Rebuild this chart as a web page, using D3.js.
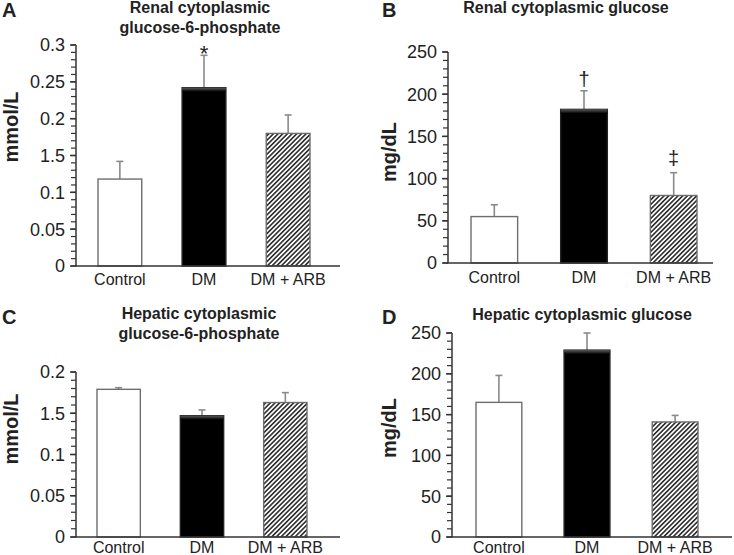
<!DOCTYPE html>
<html>
<head>
<meta charset="utf-8">
<script src="https://d3js.org/d3.v7.min.js"></script>
<style>
	body { margin: 0; background: #fff; }
	svg text { font-family: "Liberation Sans", Arial, sans-serif; fill: #222; }
	.tick_label { font-size: 18px; }
	.x_label { font-size: 16px; }
	.panel_title { font-size: 16px; font-weight: bold; }
	.panel_letter { font-size: 20px; font-weight: bold; }
	.y_title { font-size: 20px; font-weight: bold; }
</style>
</head>
<body>
<svg id="fig" width="734" height="555"></svg>
<script>
const groups = ["Control", "DM", "DM + ARB"];

// A: renal cytoplasmic glucose-6-phosphate (mmol/L)
const renalG6P = [0.118, 0.242, 0.180];
const renalG6PErr = [0.024, 0.044, 0.025];
const ticksA = [0, 0.05, 0.1, 0.15, 0.2, 0.25, 0.3];
const tickLabelsA = ["0", "0.05", "0.1", "1.5", "0.2", "0.25", "0.3"];

// B: renal cytoplasmic glucose (mg/dL)
const renalGlu = [55, 182, 80];
const renalGluErr = [14, 22, 27];
const ticksB = [0, 50, 100, 150, 200, 250];
const tickLabelsB = ["0", "50", "100", "150", "200", "250"];

// C: hepatic cytoplasmic glucose-6-phosphate (mmol/L)
const hepG6P = [0.179, 0.147, 0.163];
const hepG6PErr = [0.002, 0.007, 0.012];
const ticksC = [0, 0.05, 0.1, 0.15, 0.2];
const tickLabelsC = ["0", "0.05", "0.1", "1.5", "0.2"];

// D: hepatic cytoplasmic glucose (mg/dL)
const hepGlu = [165, 229, 141];
const hepGluErr = [33, 21, 8];
const ticksD = [0, 50, 100, 150, 200, 250];
const tickLabelsD = ["0", "50", "100", "150", "200", "250"];

const svg = d3.select("#fig");
const axisColor = "#333";
const barStroke = "#6e6e6e";
const errColor = "#8a8a8a";

// hatch pattern and the dark bar gradient
const defs = svg.append("defs");
const hatch = defs.append("pattern")
	.attr("id", "hatch")
	.attr("patternUnits", "userSpaceOnUse")
	.attr("width", 3.3)
	.attr("height", 3.3)
	.attr("patternTransform", "rotate(45)");
hatch.append("rect")
	.attr("width", 3.3)
	.attr("height", 3.3)
	.attr("fill", "#fff");
hatch.append("line")
	.attr("x1", 0.8).attr("y1", 0)
	.attr("x2", 0.8).attr("y2", 3.3)
	.attr("stroke", "#333")
	.attr("stroke-width", 1.7);

const topGrad = defs.append("linearGradient")
	.attr("id", "topgrad")
	.attr("x1", 0).attr("y1", 0).attr("x2", 0).attr("y2", 1);
topGrad.append("stop").attr("offset", "0%").attr("stop-color", "#5a5a5a");
topGrad.append("stop").attr("offset", "100%").attr("stop-color", "#000");

const fills = ["#fff", "#000", "url(#hatch)"];

function drawPanel(p) {
	const g = svg.append("g");

	let y = d3.scaleLinear()
		.domain([0, p.max])
		.range([p.y0, p.yTop]);

	let x = d3.scaleBand()
		.domain(groups)
		.range([p.barLeft, p.barRight])
		.paddingInner(0.48)
		.paddingOuter(0);

	// letter and title
	g.append("text")
		.attr("class", "panel_letter")
		.attr("x", p.letterX)
		.attr("y", p.letterY)
		.text(p.letter);

	p.title.forEach(function(line, i) {
		g.append("text")
			.attr("class", "panel_title")
			.attr("text-anchor", "middle")
			.attr("x", p.titleX)
			.attr("y", p.titleY + i * 20)
			.text(line);
	});

	// y axis title
	g.append("text")
		.attr("class", "y_title")
		.attr("text-anchor", "middle")
		.attr("transform", "translate(" + p.yTitleX + "," + p.yTitleY + ") rotate(-90)")
		.text(p.yTitle);

	// error bars first so the bar outline sits on top
	p.values.forEach(function(v, i) {
		let cx = x(groups[i]) + x.bandwidth() / 2;
		let top = y(v + p.errs[i]);
		g.append("line")
			.attr("x1", cx).attr("x2", cx)
			.attr("y1", y(v)).attr("y2", top)
			.attr("stroke", errColor)
			.attr("stroke-width", 1.6);
		g.append("line")
			.attr("x1", cx - 3.5).attr("x2", cx + 3.5)
			.attr("y1", top).attr("y2", top)
			.attr("stroke", errColor)
			.attr("stroke-width", 1.6);
	});

	// bars
	p.values.forEach(function(v, i) {
		g.append("rect")
			.attr("x", x(groups[i]))
			.attr("y", y(v))
			.attr("width", x.bandwidth())
			.attr("height", y(0) - y(v))
			.attr("fill", fills[i])
			.attr("stroke", i == 1 ? "#222" : barStroke)
			.attr("stroke-width", 1.4);
		if (i == 1) {
			g.append("rect")
				.attr("x", x(groups[i]))
				.attr("y", y(v))
				.attr("width", x.bandwidth())
				.attr("height", 4)
				.attr("fill", "url(#topgrad)");
		}
	});

	// significance marks
	p.marks.forEach(function(m) {
		let cx = x(groups[m.index]) + x.bandwidth() / 2;
		let top = y(p.values[m.index] + p.errs[m.index]);
		g.append("text")
			.attr("text-anchor", "middle")
			.attr("x", cx)
			.attr("y", top + m.dy)
			.attr("font-size", m.size + "px")
			.text(m.symbol);
	});

	// y axis: line, minor and major ticks, labels
	g.append("line")
		.attr("x1", p.axisX).attr("x2", p.axisX)
		.attr("y1", y(0)).attr("y2", y(p.max))
		.attr("stroke", axisColor)
		.attr("stroke-width", 1.5);

	let minor = d3.range(0, p.max + p.minorStep / 2, p.minorStep);
	g.selectAll(null)
		.data(minor)
		.enter().append("line")
		.attr("x1", p.axisX - 5).attr("x2", p.axisX)
		.attr("y1", d => y(d)).attr("y2", d => y(d))
		.attr("stroke", axisColor)
		.attr("stroke-width", 1.2);

	g.selectAll(null)
		.data(p.ticks)
		.enter().append("line")
		.attr("x1", p.axisX - 6).attr("x2", p.axisX)
		.attr("y1", d => y(d)).attr("y2", d => y(d))
		.attr("stroke", axisColor)
		.attr("stroke-width", 1.5);

	g.selectAll(null)
		.data(p.ticks)
		.enter().append("text")
		.attr("class", "tick_label")
		.attr("text-anchor", "end")
		.attr("x", p.axisX - 11)
		.attr("y", d => y(d))
		.attr("dy", "0.36em")
		.text((d, i) => p.tickLabels[i]);

	// x axis baseline and category labels
	g.append("line")
		.attr("x1", p.axisX - 1).attr("x2", p.axisEnd)
		.attr("y1", y(0)).attr("y2", y(0))
		.attr("stroke", axisColor)
		.attr("stroke-width", 1.5);

	g.selectAll(null)
		.data(groups)
		.enter().append("text")
		.attr("class", "x_label")
		.attr("text-anchor", "middle")
		.attr("x", d => x(d) + x.bandwidth() / 2)
		.attr("y", p.xLabelY)
		.text(d => d);
}

const panels = [
	{
		letter: "A", letterX: 2, letterY: 17,
		title: ["Renal cytoplasmic", "glucose-6-phosphate"], titleX: 200, titleY: 13,
		yTitle: "mmol/L", yTitleX: 18, yTitleY: 127,
		values: renalG6P, errs: renalG6PErr, max: 0.3, ticks: ticksA, tickLabels: tickLabelsA, minorStep: 0.01,
		y0: 266, yTop: 45, axisX: 76, axisEnd: 340, barLeft: 98, barRight: 310, xLabelY: 285,
		marks: [{ index: 1, symbol: "*", dy: 6, size: 22 }]
	},
	{
		letter: "B", letterX: 382, letterY: 17,
		title: ["Renal cytoplasmic glucose"], titleX: 566, titleY: 13,
		yTitle: "mg/dL", yTitleX: 396, yTitleY: 152,
		values: renalGlu, errs: renalGluErr, max: 250, ticks: ticksB, tickLabels: tickLabelsB, minorStep: 10,
		y0: 263, yTop: 52, axisX: 448, axisEnd: 713, barLeft: 471, barRight: 697, xLabelY: 283,
		marks: [{ index: 1, symbol: "\u2020", dy: -5, size: 20 }, { index: 2, symbol: "\u2021", dy: -8, size: 20 }]
	},
	{
		letter: "C", letterX: 2, letterY: 324,
		title: ["Hepatic cytoplasmic", "glucose-6-phosphate"], titleX: 199, titleY: 319,
		yTitle: "mmol/L", yTitleX: 18, yTitleY: 429,
		values: hepG6P, errs: hepG6PErr, max: 0.2, ticks: ticksC, tickLabels: tickLabelsC, minorStep: 0.01,
		y0: 537, yTop: 372, axisX: 76, axisEnd: 340, barLeft: 97, barRight: 307, xLabelY: 553,
		marks: []
	},
	{
		letter: "D", letterX: 382, letterY: 324,
		title: ["Hepatic cytoplasmic glucose"], titleX: 582, titleY: 320,
		yTitle: "mg/dL", yTitleX: 396, yTitleY: 428,
		values: hepGlu, errs: hepGluErr, max: 250, ticks: ticksD, tickLabels: tickLabelsD, minorStep: 10,
		y0: 537, yTop: 333, axisX: 452, axisEnd: 732, barLeft: 476, barRight: 698, xLabelY: 553,
		marks: []
	}
];

panels.forEach(drawPanel);
</script>
</body>
</html>
